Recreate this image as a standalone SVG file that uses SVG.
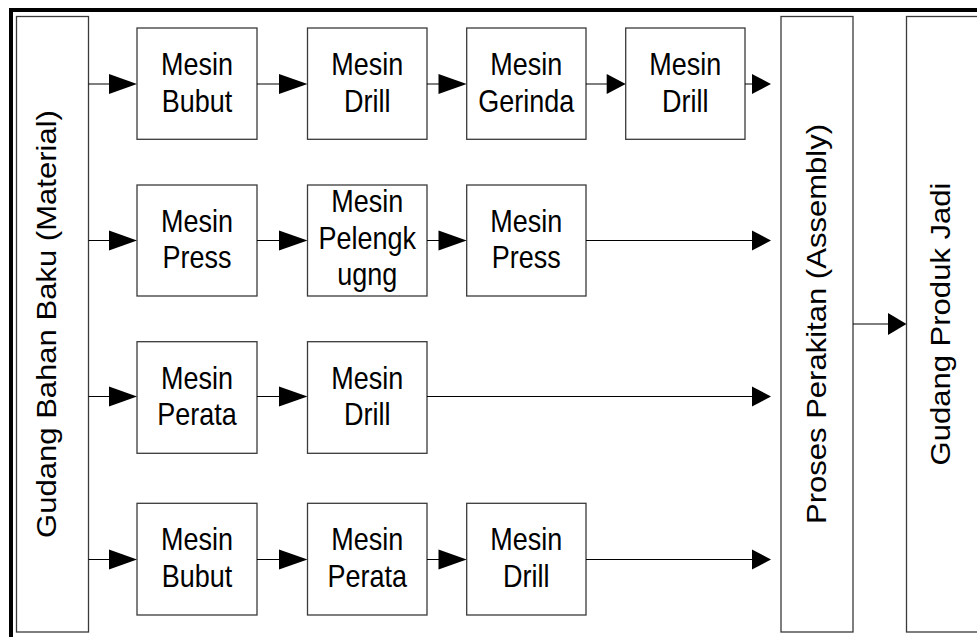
<svg xmlns="http://www.w3.org/2000/svg" width="977" height="637" viewBox="0 0 977 637">
  <style>
    .frame { fill: none; stroke: #000; stroke-width: 4; }
    .box { fill: #fff; stroke: #3a3a3a; stroke-width: 1.3; }
    .line { fill: none; stroke: #000; stroke-width: 1.2; }
    .head { fill: #000; stroke: none; }
    .lbl { font-family: "Liberation Sans", Arial, sans-serif; font-size: 27px; fill: #000; text-anchor: middle; }
  </style>
  <rect width="977" height="637" fill="#fff"/>
  <!-- outer frame, continues past the right and bottom edges -->
  <rect class="frame" x="11" y="10" width="1000" height="700"/>

  <!-- storage and assembly columns -->
  <g id="gudang-bahan-baku">
    <rect class="box" x="16.5" y="16.5" width="72" height="615.5"/>
    <text class="lbl" transform="translate(56,324) scale(1,1.15) rotate(-90)">Gudang Bahan Baku (Material)</text>
  </g>
  <g id="proses-perakitan">
    <rect class="box" x="781" y="16.5" width="72" height="615.5"/>
    <text class="lbl" transform="translate(826,324) scale(1,1.15) rotate(-90)">Proses Perakitan (Assembly)</text>
  </g>
  <g id="gudang-produk-jadi">
    <rect class="box" x="906.5" y="16.5" width="100" height="615.5"/>
    <text class="lbl" transform="translate(950,324) scale(1,1.15) rotate(-90)">Gudang Produk Jadi</text>
  </g>

  <!-- row 1 -->
  <g id="r1-bubut">
    <rect class="box" x="137" y="28" width="120" height="111.3"/>
    <text class="lbl" transform="translate(197,74.7) scale(1,1.15)">Mesin</text>
    <text class="lbl" transform="translate(197,111.5) scale(1,1.15)">Bubut</text>
  </g>
  <g id="r1-drill">
    <rect class="box" x="307.5" y="28" width="119.5" height="111.3"/>
    <text class="lbl" transform="translate(367.2,74.7) scale(1,1.15)">Mesin</text>
    <text class="lbl" transform="translate(367.2,111.5) scale(1,1.15)">Drill</text>
  </g>
  <g id="r1-gerinda">
    <rect class="box" x="466.7" y="28" width="119.3" height="111.3"/>
    <text class="lbl" transform="translate(526.3,74.7) scale(1,1.15)">Mesin</text>
    <text class="lbl" transform="translate(526.3,111.5) scale(1,1.15)">Gerinda</text>
  </g>
  <g id="r1-drill-2">
    <rect class="box" x="625.7" y="28" width="119.3" height="111.3"/>
    <text class="lbl" transform="translate(685.3,74.7) scale(1,1.15)">Mesin</text>
    <text class="lbl" transform="translate(685.3,111.5) scale(1,1.15)">Drill</text>
  </g>

  <!-- row 2 -->
  <g id="r2-press">
    <rect class="box" x="137" y="185" width="120" height="111"/>
    <text class="lbl" transform="translate(197,231.7) scale(1,1.15)">Mesin</text>
    <text class="lbl" transform="translate(197,268.4) scale(1,1.15)">Press</text>
  </g>
  <g id="r2-pelengkung">
    <rect class="box" x="307.5" y="185" width="119.5" height="111"/>
    <text class="lbl" transform="translate(367.2,211.7) scale(1,1.15)">Mesin</text>
    <text class="lbl" transform="translate(367.2,248.5) scale(1,1.15)">Pelengk</text>
    <text class="lbl" transform="translate(367.2,285.2) scale(1,1.15)">ugng</text>
  </g>
  <g id="r2-press-2">
    <rect class="box" x="466.7" y="185" width="119.3" height="111"/>
    <text class="lbl" transform="translate(526.3,231.7) scale(1,1.15)">Mesin</text>
    <text class="lbl" transform="translate(526.3,268.4) scale(1,1.15)">Press</text>
  </g>

  <!-- row 3 -->
  <g id="r3-perata">
    <rect class="box" x="137" y="341.7" width="120" height="111.6"/>
    <text class="lbl" transform="translate(197,388.5) scale(1,1.15)">Mesin</text>
    <text class="lbl" transform="translate(197,425.3) scale(1,1.15)">Perata</text>
  </g>
  <g id="r3-drill">
    <rect class="box" x="307.5" y="341.7" width="119.5" height="111.6"/>
    <text class="lbl" transform="translate(367.2,388.5) scale(1,1.15)">Mesin</text>
    <text class="lbl" transform="translate(367.2,425.3) scale(1,1.15)">Drill</text>
  </g>

  <!-- row 4 -->
  <g id="r4-bubut">
    <rect class="box" x="137" y="503.3" width="120" height="111.7"/>
    <text class="lbl" transform="translate(197,550) scale(1,1.15)">Mesin</text>
    <text class="lbl" transform="translate(197,586.8) scale(1,1.15)">Bubut</text>
  </g>
  <g id="r4-perata">
    <rect class="box" x="307.5" y="503.3" width="119.5" height="111.7"/>
    <text class="lbl" transform="translate(367.2,550) scale(1,1.15)">Mesin</text>
    <text class="lbl" transform="translate(367.2,586.8) scale(1,1.15)">Perata</text>
  </g>
  <g id="r4-drill">
    <rect class="box" x="466.7" y="503.3" width="119.3" height="111.7"/>
    <text class="lbl" transform="translate(526.3,550) scale(1,1.15)">Mesin</text>
    <text class="lbl" transform="translate(526.3,586.8) scale(1,1.15)">Drill</text>
  </g>

  <!-- connectors -->
  <g id="connectors">
    <!-- row 1, y = 84 -->
    <path class="line" d="M88.5 84H110 M257 84H280 M427 84H439.5 M586 84H607.5 M745 84H753"/>
    <polygon class="head" points="109,74 137,84 109,94"/>
    <polygon class="head" points="279,74 307.5,84 279,94"/>
    <polygon class="head" points="438.5,74 466.7,84 438.5,94"/>
    <polygon class="head" points="606.7,74 625.7,84 606.7,94"/>
    <polygon class="head" points="752,74 771,84 752,94"/>
    <!-- row 2, y = 240.5 -->
    <path class="line" d="M88.5 240.5H110 M257 240.5H280 M427 240.5H439.5 M586 240.5H753"/>
    <polygon class="head" points="109,230.5 137,240.5 109,250.5"/>
    <polygon class="head" points="279,230.5 307.5,240.5 279,250.5"/>
    <polygon class="head" points="438.5,230.5 466.7,240.5 438.5,250.5"/>
    <polygon class="head" points="752,230.5 771,240.5 752,250.5"/>
    <!-- row 3, y = 396.5 -->
    <path class="line" d="M88.5 396.5H110 M257 396.5H280 M427 396.5H753"/>
    <polygon class="head" points="109,386.5 137,396.5 109,406.5"/>
    <polygon class="head" points="279,386.5 307.5,396.5 279,406.5"/>
    <polygon class="head" points="752,386.5 771,396.5 752,406.5"/>
    <!-- row 4, y = 559.5 -->
    <path class="line" d="M88.5 559.5H110 M257 559.5H280 M427 559.5H439.5 M586 559.5H753"/>
    <polygon class="head" points="109,549.5 137,559.5 109,569.5"/>
    <polygon class="head" points="279,549.5 307.5,559.5 279,569.5"/>
    <polygon class="head" points="438.5,549.5 466.7,559.5 438.5,569.5"/>
    <polygon class="head" points="752,549.5 771,559.5 752,569.5"/>
    <!-- assembly to finished goods -->
    <path class="line" d="M853 324H889"/>
    <polygon class="head" points="888,313 906.5,324 888,335"/>
  </g>
</svg>
